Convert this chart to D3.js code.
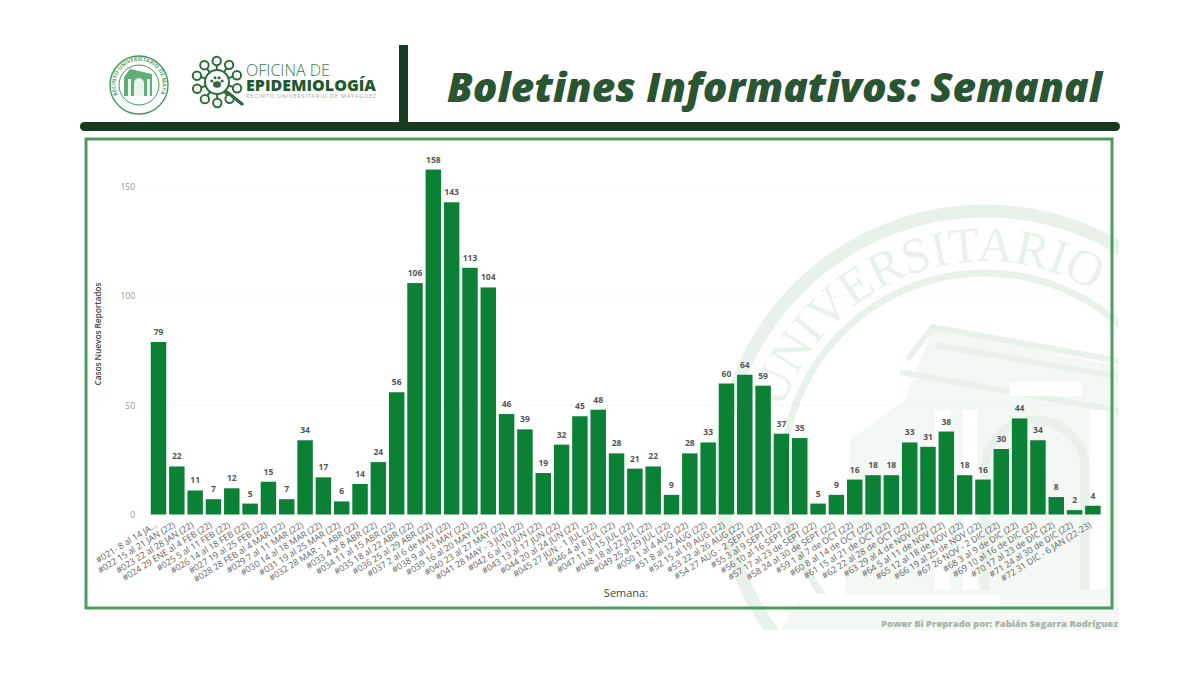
<!DOCTYPE html>
<html>
<head>
<meta charset="utf-8">
<script src="https://d3js.org/d3.v7.min.js"></script>
<style>
  html, body { margin: 0; padding: 0; background: #fff; }
  svg { display: block; }
  text { font-family: "Open Sans", sans-serif; }
</style>
</head>
<body>
<svg id="chart" width="1200" height="675"></svg>
<script>
var semanas = [
  "#021- 8 al 14 JA...", "#022 15 al 21 JAN (22)", "#023 22 al 28 JAN (22)", "#024 29 ENE al 4 FEB (22)",
  "#025 5 al 11 FEB (22)", "#026 14 al 18 FEB (22)", "#027 19 al 25 FEB (22)", "#028 28 FEB al 4 MAR (22)",
  "#029 7 al 11 MAR (22)", "#030 14 al 18 MAR (22)", "#031 19 al 25 MAR (22)", "#032 28 MAR - 1 ABR (22)",
  "#033 4 al 8 ABR (22)", "#034 11 al 15 ABR (22)", "#035 18 al 22 ABR (22)", "#036 25 al 29 ABR (22)",
  "#037 2 al 6 de MAY (22)", "#038 9 al 13 MAY (22)", "#039 16 al 20 MAY (22)", "#040 23 al 27 MAY (22)",
  "#041 28 MAY - 3 JUN (22)", "#042 6 al 10 JUN (22)", "#043 13 al 17 JUN (22)", "#044 20 al 24 JUN (22)",
  "#045 27 JUN - 1 JUL (22)", "#046 4 al 8 JUL (22)", "#047 11 al 15 JUL (22)", "#048 18 al 22 JUL (22)",
  "#049 25 al 29 JUL (22)", "#050 1 al 4 AUG (22)", "#51 8 al 12 AUG (22)", "#52 15 al 19 AUG (22)",
  "#53 22 al 26 AUG (22)", "#54 27 AUG - 2 SEPT (22)", "#55 3 al 9 SEPT (22)", "#56 10 al 16 SEPT (22)",
  "#57 17 al 23 de SEPT (22)", "#58 24 al 30 de SEPT (22)", "#59 1 al 7 de OCT (22)", "#60 8 al 14 de OCT (22)",
  "#61 15 al 21 de OCT (22)", "#62 22 al 28 de OCT (22)", "#63 29 al 4 de NOV (22)", "#64 5 al 11 de NOV (22)",
  "#65 12 al 18 de NOV (22)", "#66 19 al 25 de NOV (22)", "#67 26 NOV - 2 DIC (22)", "#68 3 al 9 de DIC (22)",
  "#69 10 al 16 de DIC (22)", "#70 17 al 23 de DIC (22)", "#71 24 al 30 de DIC (22)", "#72 31 DIC - 6 JAN (22-23)"
];
var casos = [
  79, 22, 11, 7, 12, 5, 15, 7, 34, 17, 6, 14, 24, 56, 106, 158, 143, 113, 104, 46,
  39, 19, 32, 45, 48, 28, 21, 22, 9, 28, 33, 60, 64, 59, 37, 35, 5, 9, 16, 18,
  18, 33, 31, 38, 18, 16, 30, 44, 34, 8, 2, 4
];
var yTicks = [0, 50, 100, 150];

var svg = d3.select("#chart");
var dark = "#16391f", frame = "#4c9c5f", barColor = "#0b8136", wm = "#e8f2ea", wmSoft = "#f3f8f4";

// watermark seal, sits behind the frame and spills under it
var defs = svg.append("defs");
defs.append("clipPath").attr("id", "wmClip").append("rect")
  .attr("x", 700).attr("y", 140).attr("width", 419).attr("height", 490);
defs.append("path").attr("id", "sealArc")
  .attr("d", "M 782.4 409 A 213 213 0 0 1 1195 438");

var seal = svg.append("g").attr("clip-path", "url(#wmClip)");
seal.append("circle").attr("cx", 985).attr("cy", 475).attr("r", 264)
  .attr("fill", "none").attr("stroke", wm).attr("stroke-width", 13);
seal.append("circle").attr("cx", 985).attr("cy", 475).attr("r", 202)
  .attr("fill", "none").attr("stroke", wm).attr("stroke-width", 7);
seal.append("text")
  .style("font-family", "Liberation Serif, serif")
  .attr("font-size", 50).attr("fill", wm)
  .append("textPath").attr("href", "#sealArc").text("UNIVERSITARIO");
// building: pale body with the columns and arch left white
seal.append("path").attr("fill", wmSoft)
  .attr("d", "M 845 600 L 850 440 L 905 400 L 933 327 L 1125 368 L 1125 630 L 780 630 L 800 600 Z");
var roof = seal.append("g").attr("fill", "none").attr("stroke", wm);
roof.append("path").attr("stroke-width", 6)
  .attr("d", "M 907 360 L 933 327 L 1125 362 M 935 345 L 1125 378 M 900 372 L 1125 412");
seal.selectAll("rect.col").data([[935, 15], [963, 14], [1090, 17]]).join("rect").attr("class", "col")
  .attr("x", function(d) { return d[0]; }).attr("y", 410).attr("width", function(d) { return d[1]; }).attr("height", 180)
  .attr("fill", "#fff");
seal.append("path").attr("fill", "none").attr("stroke", wm).attr("stroke-width", 9)
  .attr("d", "M 985 590 L 985 470 A 50 50 0 0 1 1085 470 L 1085 590");
seal.append("rect").attr("x", 1010).attr("y", 382).attr("width", 72).attr("height", 14).attr("fill", "#fff");
seal.append("rect").attr("x", 800).attr("y", 594).attr("width", 200).attr("height", 12).attr("fill", "#fff");

// header
svg.append("rect").attr("x", 80).attr("y", 122).attr("width", 1040).attr("height", 9).attr("rx", 4.5).attr("fill", dark);
svg.append("rect").attr("x", 399).attr("y", 45).attr("width", 9).attr("height", 80).attr("fill", dark);

svg.append("text").attr("x", 447).attr("y", 102)
  .attr("font-size", 41).attr("font-weight", 800).attr("font-style", "italic")
  .attr("fill", "#2a5533").attr("textLength", 655).attr("lengthAdjust", "spacingAndGlyphs")
  .text("Boletines Informativos: Semanal");

// university seal logo
defs.append("path").attr("id", "logoArc").attr("d", "M -21 10 A 23.5 23.5 0 1 1 21 10");
var logo = svg.append("g").attr("transform", "translate(139,85)");
logo.append("circle").attr("r", 29).attr("fill", "none").attr("stroke", "#3f9a5a").attr("stroke-width", 1.4);
logo.append("circle").attr("r", 20).attr("fill", "none").attr("stroke", "#3f9a5a").attr("stroke-width", 1);
logo.append("text").attr("font-size", 5.5).attr("font-weight", 700).attr("fill", "#5aa873")
  .append("textPath").attr("href", "#logoArc").text("RECINTO UNIVERSITARIO DE MAYAGÜEZ");
logo.append("path").attr("d", "M -15 -8 L -9 -16 L 13 -11 L 13 11 L -15 11 Z").attr("fill", "#5fae78");
logo.append("path").attr("d", "M -5 11 L -5 -2 A 5 5 0 0 1 5 -2 L 5 11 Z").attr("fill", "#e9f4ec");
logo.append("rect").attr("x", -11).attr("y", -6).attr("width", 3).attr("height", 17).attr("fill", "#e9f4ec");
logo.append("rect").attr("x", 8).attr("y", -6).attr("width", 3).attr("height", 17).attr("fill", "#e9f4ec");

// epidemiology logo: virus ring and magnifier
var virus = svg.append("g").attr("transform", "translate(217,82)").attr("fill", "none").attr("stroke", "#2e6b3e").attr("stroke-width", 2);
virus.append("circle").attr("r", 12);
d3.range(10).forEach(function(i) {
  var a = i / 10 * 2 * Math.PI + 0.3;
  virus.append("line").attr("x1", 12 * Math.cos(a)).attr("y1", 12 * Math.sin(a))
    .attr("x2", 17 * Math.cos(a)).attr("y2", 17 * Math.sin(a));
  virus.append("circle").attr("cx", 21 * Math.cos(a)).attr("cy", 21 * Math.sin(a)).attr("r", 4.2).attr("fill", "#fff");
});
virus.append("line").attr("x1", 10).attr("y1", 10).attr("x2", 25).attr("y2", 22).attr("stroke-width", 3.5).attr("stroke-linecap", "round");
// paw
virus.append("ellipse").attr("cy", 2.5).attr("rx", 4).attr("ry", 3.2).attr("fill", "#2e6b3e").attr("stroke", "none");
[[-5.2, -1], [-2, -4.2], [2, -4.2], [5.2, -1]].forEach(function(p) {
  virus.append("circle").attr("cx", p[0]).attr("cy", p[1]).attr("r", 1.5).attr("fill", "#2e6b3e").attr("stroke", "none");
});

svg.append("text").attr("x", 246).attr("y", 76).attr("font-size", 15.5).attr("font-weight", 300).attr("fill", "#3c7a4c")
  .attr("textLength", 84).attr("lengthAdjust", "spacingAndGlyphs").text("OFICINA DE");
svg.append("text").attr("x", 246).attr("y", 90.5).attr("font-size", 15.5).attr("font-weight", 800).attr("fill", "#1f5a31")
  .attr("textLength", 130).attr("lengthAdjust", "spacingAndGlyphs").text("EPIDEMIOLOGÍA");
svg.append("text").attr("x", 246).attr("y", 97.5).attr("font-size", 5.5).attr("fill", "#a5a5a5")
  .attr("textLength", 130).text("RECINTO UNIVERSITARIO DE MAYAGÜEZ");

// chart frame
svg.append("rect").attr("x", 86).attr("y", 139).attr("width", 1026).attr("height", 469)
  .attr("fill", "none").attr("stroke", frame).attr("stroke-width", 3);

var x = d3.scaleBand().domain(semanas).range([149.3, 1102.1]).paddingInner(0.155).paddingOuter(0.08);
var y = d3.scaleLinear().domain([0, 150]).range([514.5, 187]);

// gridlines and y axis
var yAxis = svg.append("g").attr("transform", "translate(143,0)")
  .call(d3.axisLeft(y).tickValues(yTicks).tickSize(0).tickPadding(8));
yAxis.select(".domain").remove();
yAxis.selectAll("text").attr("font-size", 8.5).attr("fill", "#9a9a9a").style("font-family", "Open Sans, sans-serif");
svg.append("g").selectAll("line").data(yTicks.slice(1)).join("line")
  .attr("x1", 143).attr("x2", 1107)
  .attr("y1", function(d) { return y(d); }).attr("y2", function(d) { return y(d); })
  .attr("stroke", "#e2e2e2").attr("stroke-width", 1).attr("stroke-dasharray", "1 3");

// bars
svg.append("g").selectAll("rect").data(casos).join("rect")
  .attr("x", function(d, i) { return x(semanas[i]); })
  .attr("width", x.bandwidth())
  .attr("y", function(d) { return y(d); })
  .attr("height", function(d) { return y(0) - y(d); })
  .attr("fill", barColor);

// value labels
svg.append("g").selectAll("text").data(casos).join("text")
  .attr("x", function(d, i) { return x(semanas[i]) + x.bandwidth() / 2; })
  .attr("y", function(d) { return y(d) - 7; })
  .attr("text-anchor", "middle")
  .attr("font-size", 8.5).attr("font-weight", 700).attr("fill", "#555")
  .text(function(d) { return d; });

// rotated week labels
var xAxis = svg.append("g").attr("transform", "translate(0,514.5)")
  .call(d3.axisBottom(x).tickSize(0).tickPadding(0));
xAxis.select(".domain").remove();
xAxis.selectAll("text")
  .attr("font-size", 8.8).attr("fill", "#5f5f5f").attr("text-anchor", "end")
  .style("font-family", "Open Sans, sans-serif")
  .attr("dy", 0).attr("y", 0)
  .attr("transform", "translate(-1,12) rotate(-32)");

svg.append("text").attr("x", 626).attr("y", 597).attr("text-anchor", "middle")
  .attr("font-size", 11).attr("fill", "#444").text("Semana:");
svg.append("text").attr("transform", "translate(101,334) rotate(-90)").attr("text-anchor", "middle")
  .attr("font-size", 8.5).attr("font-weight", 600).attr("fill", "#444")
  .attr("textLength", 103).text("Casos Nuevos Reportados");

svg.append("text").attr("x", 881).attr("y", 627)
  .attr("font-size", 9.5).attr("font-weight", 800).attr("fill", "#aab0aa")
  .attr("textLength", 237).text("Power Bi Preprado por: Fabián Segarra Rodríguez");
</script>
</body>
</html>
